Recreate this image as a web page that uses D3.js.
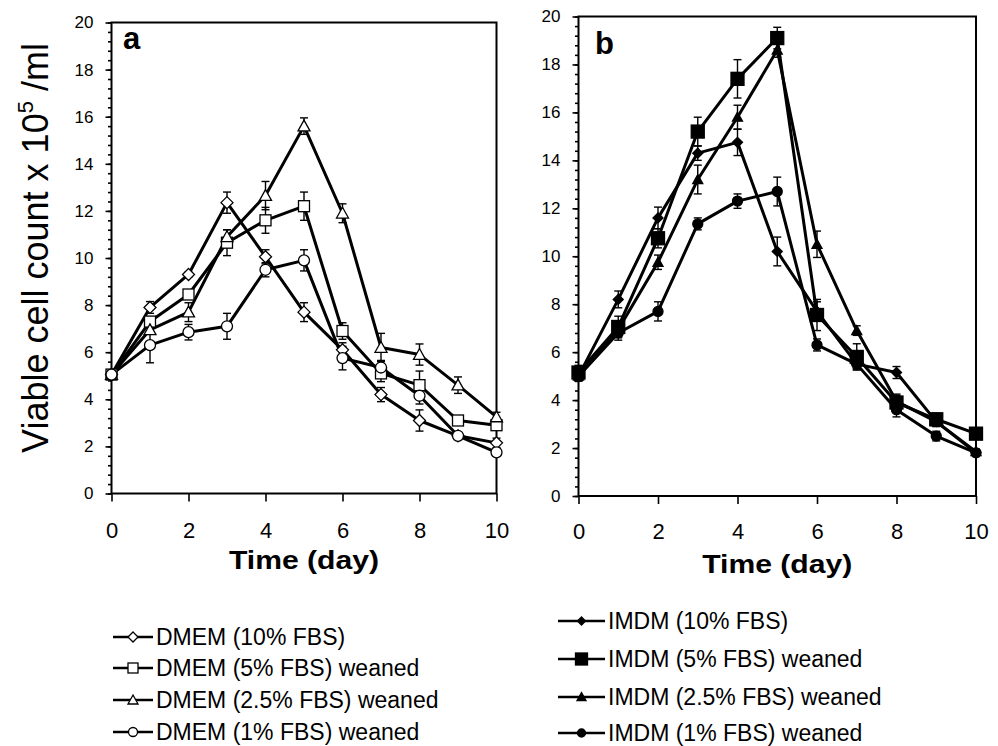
<!DOCTYPE html>
<html>
<head>
<meta charset="utf-8">
<script src="https://cdn.jsdelivr.net/npm/d3@7"></script>
<style>
  body { margin: 0; background: #fff; }
  svg { display: block; font-family: "Liberation Sans", Arial, sans-serif; }
</style>
</head>
<body>
<svg id="chart" width="998" height="746"></svg>
<script>
// days sampled
const days = [0, 1, 2, 3, 4, 5, 6, 7, 8, 9, 10];
const xTicks = [0, 2, 4, 6, 8, 10];
const yTicks = [0, 2, 4, 6, 8, 10, 12, 14, 16, 18, 20];

// panel a - DMEM
const dmem10 = [5.05, 7.9, 9.3, 12.35, 10.05, 7.7, 6.1, 4.2, 3.1, 2.45, 2.15];
const dmem10Err = [0.1, 0.25, 0.1, 0.45, 0.3, 0.4, 0.3, 0.3, 0.45, 0.1, 0.2];
const dmem5 = [5.05, 7.3, 8.45, 10.65, 11.6, 12.2, 6.9, 5.1, 4.6, 3.1, 2.9];
const dmem5Err = [0.1, 0.2, 0.15, 0.55, 0.55, 0.6, 0.35, 0.35, 0.6, 0.15, 0.2];
const dmem25 = [5.05, 6.95, 7.7, 10.9, 12.65, 15.6, 11.9, 6.2, 5.9, 4.6, 3.25];
const dmem25Err = [0.1, 0.15, 0.4, 0.3, 0.6, 0.35, 0.4, 0.6, 0.45, 0.35, 0.2];
const dmem1 = [5.05, 6.3, 6.85, 7.1, 9.5, 9.9, 5.75, 5.35, 4.15, 2.45, 1.75];
const dmem1Err = [0.1, 0.75, 0.33, 0.55, 0.3, 0.45, 0.5, 0.3, 0.35, 0.15, 0.1];

// panel b - IMDM
const imdm10 = [5.0, 8.2, 11.6, 14.3, 14.75, 10.2, 7.7, 5.5, 5.15, 3.1, 1.8];
const imdm10Err = [0.2, 0.35, 0.45, 0.3, 0.55, 0.6, 0.4, 0.2, 0.25, 0.2, 0.1];
const imdm5 = [5.15, 7.05, 10.75, 15.2, 17.4, 19.1, 7.55, 5.8, 3.9, 3.2, 2.6];
const imdm5Err = [0.3, 0.45, 0.4, 0.6, 0.8, 0.45, 0.65, 0.55, 0.3, 0.25, 0.15];
const imdm25 = [5.0, 6.95, 9.75, 13.2, 15.8, 18.6, 10.5, 6.9, 3.95, 3.1, 1.85];
const imdm25Err = [0.2, 0.3, 0.3, 0.6, 0.5, 0.3, 0.55, 0.2, 0.3, 0.2, 0.1];
const imdm1 = [5.0, 6.8, 7.7, 11.35, 12.3, 12.7, 6.3, 5.5, 3.6, 2.5, 1.8];
const imdm1Err = [0.2, 0.3, 0.4, 0.25, 0.3, 0.6, 0.25, 0.2, 0.3, 0.2, 0.15];

const dmemLabels = ["DMEM (10% FBS)", "DMEM (5% FBS) weaned", "DMEM (2.5% FBS) weaned", "DMEM (1% FBS) weaned"];
const imdmLabels = ["IMDM (10% FBS)", "IMDM (5% FBS) weaned", "IMDM (2.5% FBS) weaned", "IMDM (1% FBS) weaned"];
const shapes = ["diamond", "square", "triangle", "circle"];

const svg = d3.select("#chart");

function drawMarker(g, shape, cx, cy, size, filled) {
    const h = size / 2;
    const fill = filled ? "#000" : "#fff";
    let el;
    if (shape === "circle") {
        el = g.append("circle").attr("cx", cx).attr("cy", cy).attr("r", h);
    } else if (shape === "square") {
        el = g.append("rect").attr("x", cx - h).attr("y", cy - h).attr("width", size).attr("height", size);
    } else if (shape === "diamond") {
        el = g.append("path").attr("d", `M${cx},${cy - h}L${cx + h},${cy}L${cx},${cy + h}L${cx - h},${cy}Z`);
    } else {
        el = g.append("path").attr("d", `M${cx},${cy - h}L${cx + h},${cy + h * 0.8}L${cx - h},${cy + h * 0.8}Z`);
    }
    el.attr("fill", fill).attr("stroke", "#000").attr("stroke-width", 1.3);
}

function drawPanel(cfg) {
    const x = d3.scaleLinear().domain([0, 10]).range([cfg.left, cfg.right]);
    const y = d3.scaleLinear().domain([0, 20]).range([cfg.bottom, cfg.top]);
    const g = svg.append("g");

    // minor y ticks
    g.append("g")
        .attr("transform", `translate(${cfg.left},0)`)
        .call(d3.axisLeft(y).tickValues(d3.range(0, 20.01, 0.4)).tickSize(3.5).tickFormat(""))
        .call(a => a.select(".domain").remove())
        .call(a => a.selectAll("line").attr("stroke-width", 1.6));

    const yAxis = g.append("g")
        .attr("transform", `translate(${cfg.left},0)`)
        .call(d3.axisLeft(y).tickValues(yTicks).tickSize(6).tickSizeOuter(0).tickPadding(12));
    yAxis.selectAll("text").attr("font-size", 17).attr("font-family", "Liberation Sans, Arial, sans-serif").attr("fill", "#000");
    yAxis.selectAll("line").attr("stroke-width", 1.6);

    const xAxis = g.append("g")
        .attr("transform", `translate(0,${cfg.bottom})`)
        .call(d3.axisBottom(x).tickValues(xTicks).tickSize(8).tickSizeOuter(0).tickPadding(cfg.xPad));
    xAxis.selectAll("text").attr("font-size", 22).attr("font-family", "Liberation Sans, Arial, sans-serif").attr("fill", "#000");
    xAxis.selectAll("line").attr("stroke-width", 1.6);
    g.selectAll(".domain").remove();

    // frame
    g.append("rect")
        .attr("x", cfg.left).attr("y", cfg.top)
        .attr("width", cfg.right - cfg.left).attr("height", cfg.bottom - cfg.top)
        .attr("fill", "none").attr("stroke", "#000").attr("stroke-width", 2);

    const line = d3.line().x((d, i) => x(days[i])).y(d => y(d));

    cfg.series.forEach(s => {
        g.append("path")
            .datum(s.values)
            .attr("fill", "none")
            .attr("stroke", "#000")
            .attr("stroke-width", 3)
            .attr("stroke-linejoin", "round")
            .attr("d", line);
    });

    // error bars
    cfg.series.forEach(s => {
        s.values.forEach((v, i) => {
            const cx = x(days[i]);
            const y1 = y(v + s.err[i]), y2 = y(v - s.err[i]);
            const eg = g.append("g").attr("stroke", "#000").attr("stroke-width", 1.4);
            eg.append("line").attr("x1", cx).attr("x2", cx).attr("y1", y1).attr("y2", y2);
            eg.append("line").attr("x1", cx - 4).attr("x2", cx + 4).attr("y1", y1).attr("y2", y1);
            eg.append("line").attr("x1", cx - 4).attr("x2", cx + 4).attr("y1", y2).attr("y2", y2);
        });
    });

    cfg.series.forEach(s => {
        s.values.forEach((v, i) => {
            drawMarker(g, s.shape, x(days[i]), y(v), s.size, cfg.filled);
        });
    });

    // panel letter
    g.append("text")
        .attr("x", cfg.letterX).attr("y", cfg.letterY)
        .attr("font-size", 31).attr("font-weight", "bold")
        .text(cfg.letter);

    // x title
    g.append("text")
        .attr("x", (cfg.left + cfg.right) / 2).attr("y", cfg.titleY)
        .attr("text-anchor", "middle")
        .attr("font-size", 26).attr("font-weight", "bold")
        .attr("textLength", 150).attr("lengthAdjust", "spacingAndGlyphs")
        .text("Time (day)");

    // legend
    cfg.series.forEach((s, i) => {
        const ly = cfg.legendY[i];
        g.append("line")
            .attr("x1", cfg.legendX1).attr("x2", cfg.legendX2)
            .attr("y1", ly).attr("y2", ly)
            .attr("stroke", "#000").attr("stroke-width", 2.5);
        drawMarker(g, s.shape, (cfg.legendX1 + cfg.legendX2) / 2, ly, s.legendSize, cfg.filled);
        g.append("text")
            .attr("x", cfg.legendX2 + 3).attr("y", ly + 8)
            .attr("font-size", 23)
            .text(cfg.labels[i]);
    });
}

drawPanel({
    left: 111.5, right: 496.5, top: 22.5, bottom: 493.5, xPad: 21,
    letter: "a", letterX: 123, letterY: 49, titleY: 569,
    filled: false,
    labels: dmemLabels,
    legendX1: 113, legendX2: 153, legendY: [637, 668, 700, 732],
    series: [
        { values: dmem10, err: dmem10Err, shape: shapes[0], size: 12, legendSize: 10 },
        { values: dmem5, err: dmem5Err, shape: shapes[1], size: 11, legendSize: 10 },
        { values: dmem25, err: dmem25Err, shape: shapes[2], size: 12, legendSize: 10 },
        { values: dmem1, err: dmem1Err, shape: shapes[3], size: 11, legendSize: 9 }
    ]
});

drawPanel({
    left: 578.5, right: 976, top: 16.5, bottom: 496, xPad: 19,
    letter: "b", letterX: 595, letterY: 54, titleY: 573,
    filled: true,
    labels: imdmLabels,
    legendX1: 558, legendX2: 605, legendY: [621, 659, 697, 733],
    series: [
        { values: imdm10, err: imdm10Err, shape: shapes[0], size: 10, legendSize: 8 },
        { values: imdm5, err: imdm5Err, shape: shapes[1], size: 13, legendSize: 12 },
        { values: imdm25, err: imdm25Err, shape: shapes[2], size: 10, legendSize: 9 },
        { values: imdm1, err: imdm1Err, shape: shapes[3], size: 10, legendSize: 8 }
    ]
});

// shared y-axis title
const yt = svg.append("text")
    .attr("transform", "translate(48,248) rotate(-90)")
    .attr("text-anchor", "middle")
    .attr("font-size", 36);
yt.append("tspan").text("Viable cell count x 10");
yt.append("tspan").attr("font-size", 22).attr("dy", -15).text("5");
yt.append("tspan").attr("dy", 15).text(" /ml");
</script>
</body>
</html>
